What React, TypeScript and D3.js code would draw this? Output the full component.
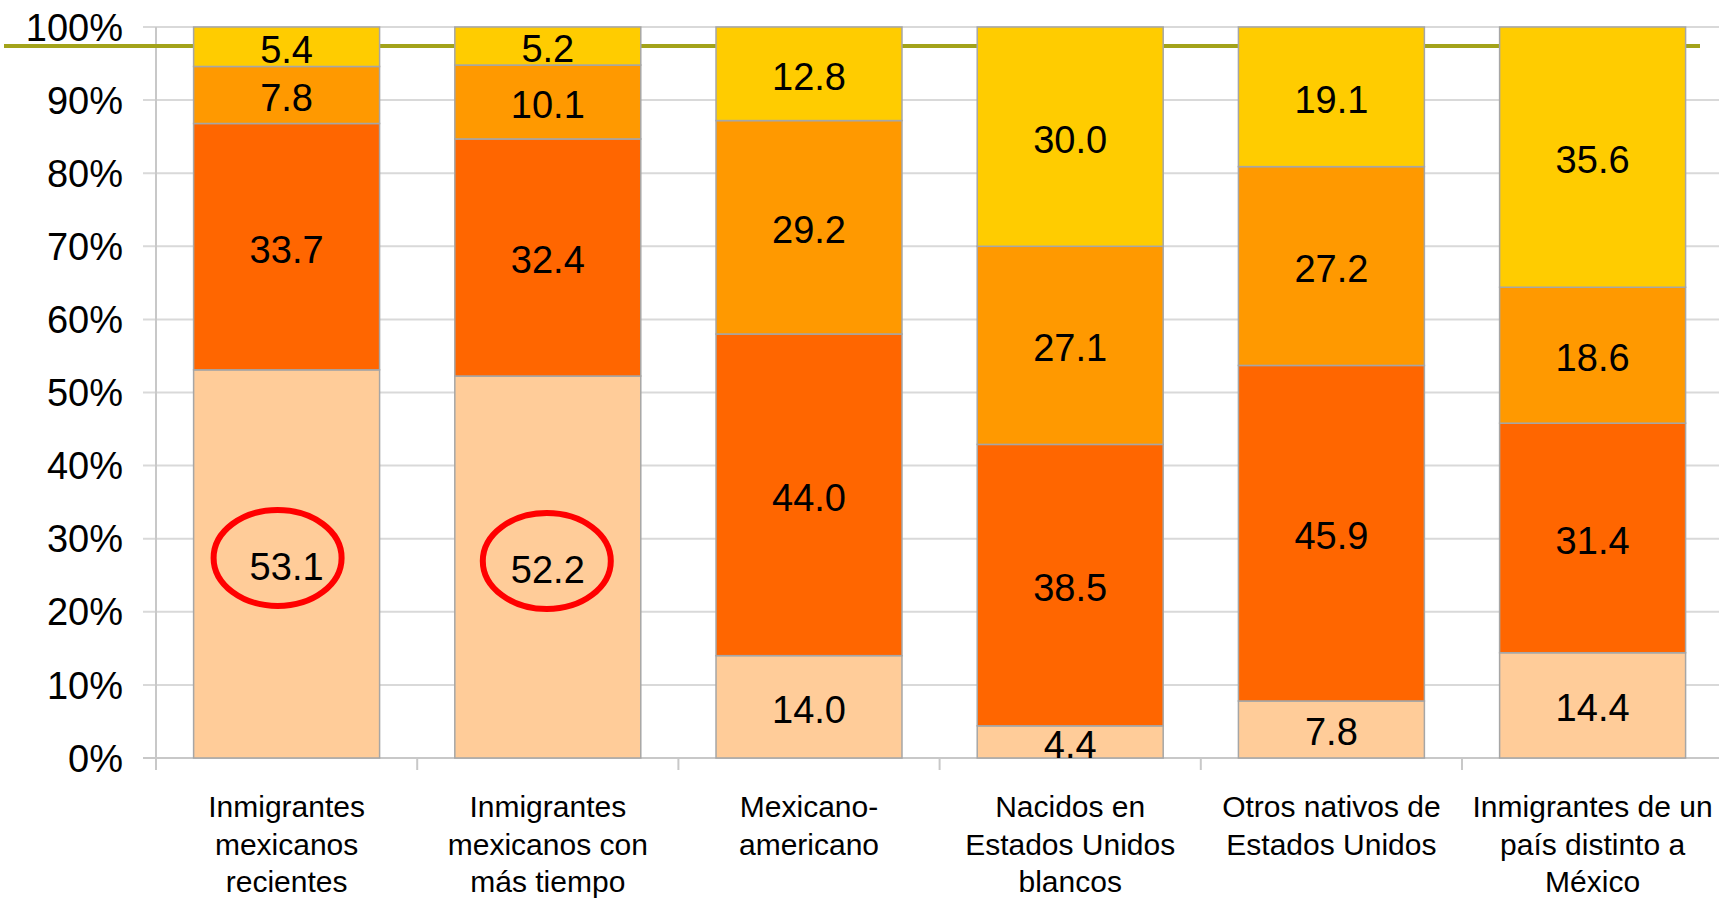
import React from "react";
import * as d3 from "d3";

const categories = ["c1", "c2", "c3", "c4", "c5", "c6"];
const categoryLines = [
  ["Inmigrantes", "mexicanos", "recientes"],
  ["Inmigrantes", "mexicanos con", "más tiempo"],
  ["Mexicano-", "americano"],
  ["Nacidos en", "Estados Unidos", "blancos"],
  ["Otros nativos de", "Estados Unidos"],
  ["Inmigrantes de un", "país distinto a", "México"],
];
const seriesKeys = ["s1", "s2", "s3", "s4"];
const s1 = [53.1, 52.2, 14.0, 4.4, 7.8, 14.4];
const s2 = [33.7, 32.4, 44.0, 38.5, 45.9, 31.4];
const s3 = [7.8, 10.1, 29.2, 27.1, 27.2, 18.6];
const s4 = [5.4, 5.2, 12.8, 30.0, 19.1, 35.6];
const seriesColors = ["#FFCC99", "#FF6600", "#FF9900", "#FFCC00"];
const yTicks = [0, 0.1, 0.2, 0.3, 0.4, 0.5, 0.6, 0.7, 0.8, 0.9, 1.0];
const referenceLine = 0.974;
const circledCategories = [0, 1];

const W = 1719;
const H = 899;
const FONT = "'Liberation Sans', Arial, sans-serif";

export default function App() {
  const left = 156;
  const step = 261.2;
  const x = d3
    .scaleBand<string>()
    .domain(categories)
    .range([left, left + step * categories.length])
    .paddingInner(0.288)
    .paddingOuter(0.144);
  const y = d3.scaleLinear().domain([0, 1]).range([758, 27]);

  const rows = categories.map((c, i) => ({
    cat: c,
    s1: s1[i],
    s2: s2[i],
    s3: s3[i],
    s4: s4[i],
  }));
  const stack = d3
    .stack<any>()
    .keys(seriesKeys)
    .offset(d3.stackOffsetExpand);
  const stacked = stack(rows);
  const raw = [s1, s2, s3, s4];
  const bw = x.bandwidth();
  const boundaries = d3.range(categories.length + 1).map((k) => left + k * x.step());

  return (
    <svg
      width={W}
      height={H}
      style={{ position: "absolute", left: 0, top: 0, background: "#fff" }}
      fontFamily={FONT}
    >
      {yTicks.map((t) => (
        <line
          key={"g" + t}
          x1={143}
          x2={W}
          y1={y(t)}
          y2={y(t)}
          stroke="#D9D9D9"
          strokeWidth={2}
        />
      ))}
      <line x1={left} x2={left} y1={y(1)} y2={y(0) + 12} stroke="#C8C8C8" strokeWidth={2} />
      <line x1={143} x2={W} y1={y(0)} y2={y(0)} stroke="#C8C8C8" strokeWidth={2} />
      {boundaries.map((b, k) => (
        <line key={"xt" + k} x1={b} x2={b} y1={y(0)} y2={y(0) + 12} stroke="#C8C8C8" strokeWidth={2} />
      ))}
      {yTicks.map((t) => (
        <text
          key={"yl" + t}
          x={123}
          y={y(t)}
          dy="0.36em"
          textAnchor="end"
          fontSize={38}
          fill="#000"
        >
          {Math.round(t * 100) + "%"}
        </text>
      ))}
      <line
        x1={4}
        x2={1700}
        y1={y(referenceLine)}
        y2={y(referenceLine)}
        stroke="#A3A31A"
        strokeWidth={4}
      />
      {stacked.map((layer, si) =>
        layer.map((d, ci) => (
          <rect
            key={"r" + si + "-" + ci}
            x={x(categories[ci])!}
            y={y(d[1])}
            width={bw}
            height={y(d[0]) - y(d[1])}
            fill={seriesColors[si]}
            stroke="#A6A6A6"
            strokeWidth={1.5}
          />
        ))
      )}
      {stacked.map((layer, si) =>
        layer.map((d, ci) => (
          <text
            key={"t" + si + "-" + ci}
            x={x(categories[ci])! + bw / 2}
            y={(y(d[0]) + y(d[1])) / 2}
            dy="0.42em"
            textAnchor="middle"
            fontSize={38}
            fill="#000"
          >
            {raw[si][ci].toFixed(1)}
          </text>
        ))
      )}
      {circledCategories.map((ci) => {
        const d = stacked[0][ci];
        return (
          <ellipse
            key={"e" + ci}
            cx={x(categories[ci])! + bw / 2 - (ci === 0 ? 9 : 1)}
            cy={(y(d[0]) + y(d[1])) / 2 - 6}
            rx={64}
            ry={48}
            fill="none"
            stroke="#FF0000"
            strokeWidth={6}
          />
        );
      })}
      {categoryLines.map((lines, ci) => (
        <text
          key={"c" + ci}
          x={x(categories[ci])! + bw / 2}
          y={817}
          textAnchor="middle"
          fontSize={30}
          fill="#000"
        >
          {lines.map((l, li) => (
            <tspan key={li} x={x(categories[ci])! + bw / 2} y={817 + li * 37.5}>
              {l}
            </tspan>
          ))}
        </text>
      ))}
    </svg>
  );
}
